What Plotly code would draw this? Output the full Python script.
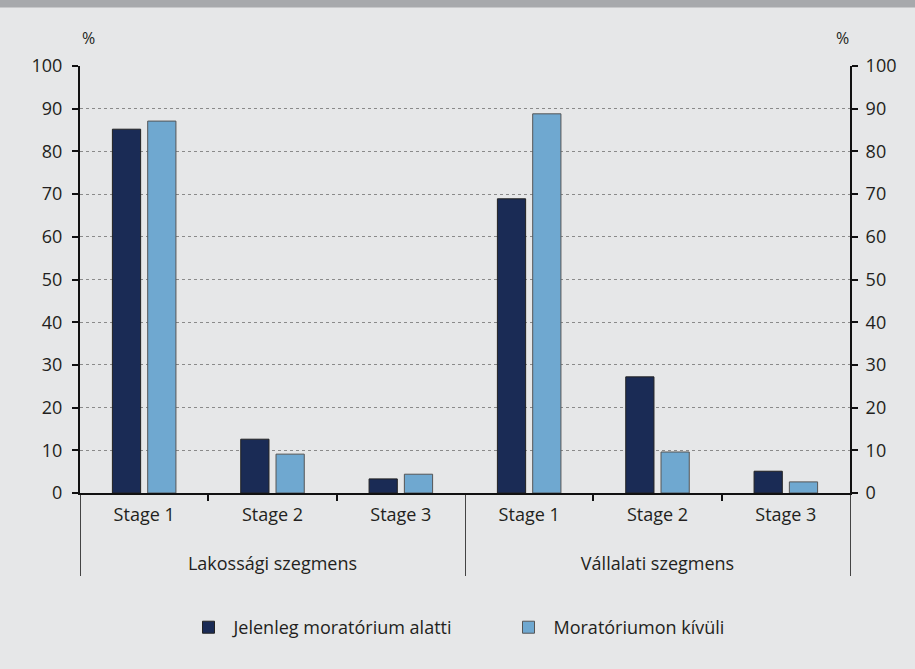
import plotly.graph_objects as go

segments = ["Lakossági szegmens"] * 3 + ["Vállalati szegmens"] * 3
stages = ["Stage 1", "Stage 2", "Stage 3"] * 2
series_names = ["Jelenleg moratórium alatti", "Moratóriumon kívüli"]
under_moratorium = [85.2, 12.6, 3.3, 68.9, 27.2, 5.1]
outside_moratorium = [87.1, 9.1, 4.4, 88.8, 9.6, 2.6]
y_ticks = list(range(0, 101, 10))

FONT = "Open Sans"
TXT = "#231f20"
BG = "#e6e7e8"

stage_labels = [s + "<br><span style='font-size:30px'> </span>" for s in stages]

fig = go.Figure()
fig.add_trace(go.Bar(x=[segments, stage_labels], y=under_moratorium, name=series_names[0],
                     marker=dict(color="#1a2b55", line=dict(color="#222222", width=1))))
fig.add_trace(go.Bar(x=[segments, stage_labels], y=outside_moratorium, name=series_names[1],
                     marker=dict(color="#6fa8d0", line=dict(color="#555555", width=1))))
fig.add_trace(go.Scatter(x=[segments, stage_labels], y=under_moratorium, yaxis="y2", mode="markers",
                         marker=dict(opacity=0), showlegend=False, hoverinfo="skip"))

axis_common = dict(showline=True, linecolor="#111", linewidth=2, ticks="outside", ticklen=6,
                   tickcolor="#111", tickwidth=1.5, tickfont=dict(size=18, color=TXT))

fig.update_layout(
    width=915, height=669,
    paper_bgcolor=BG, plot_bgcolor=BG,
    margin=dict(l=80, r=65, t=66, b=176),
    barmode="group", bargap=0.45, bargroupgap=0.2,
    font=dict(family=FONT, size=18, color=TXT),
    xaxis=dict(type="multicategory", showdividers=True, dividercolor="#444", dividerwidth=1,
               ticklabelstandoff=4, **axis_common),
    yaxis=dict(range=[0, 100], tickvals=y_ticks, showgrid=True, gridcolor="#8a8a8a",
               griddash="dot", gridwidth=1.2, zeroline=False, ticklabelstandoff=6, **axis_common),
    yaxis2=dict(range=[0, 100], tickvals=y_ticks, overlaying="y", side="right",
                showgrid=False, zeroline=False, ticklabelstandoff=4, **axis_common),
    legend=dict(orientation="h", x=0.55, xanchor="center", y=-0.315, yanchor="middle",
                font=dict(size=18, color=TXT), bgcolor="rgba(0,0,0,0)", itemwidth=40,
                traceorder="normal", entrywidthmode="pixels", entrywidth=265),
    shapes=[dict(type="rect", xref="paper", yref="paper", x0=-0.2, x1=1.2,
                 y0=1.137, y1=1.2, fillcolor="#a7a9ac", line=dict(width=0), layer="below")],
    annotations=[
        dict(text="%", xref="paper", yref="paper", x=0, y=1.035, xanchor="center", xshift=8,
             yanchor="bottom", showarrow=False, font=dict(size=16, color=TXT)),
        dict(text="%", xref="paper", yref="paper", x=1, y=1.035, xanchor="center", xshift=-8,
             yanchor="bottom", showarrow=False, font=dict(size=16, color=TXT)),
    ],
)

fig.write_html("out.html", config={"displayModeBar": False},
               post_script="document.body.style.margin='0';")
